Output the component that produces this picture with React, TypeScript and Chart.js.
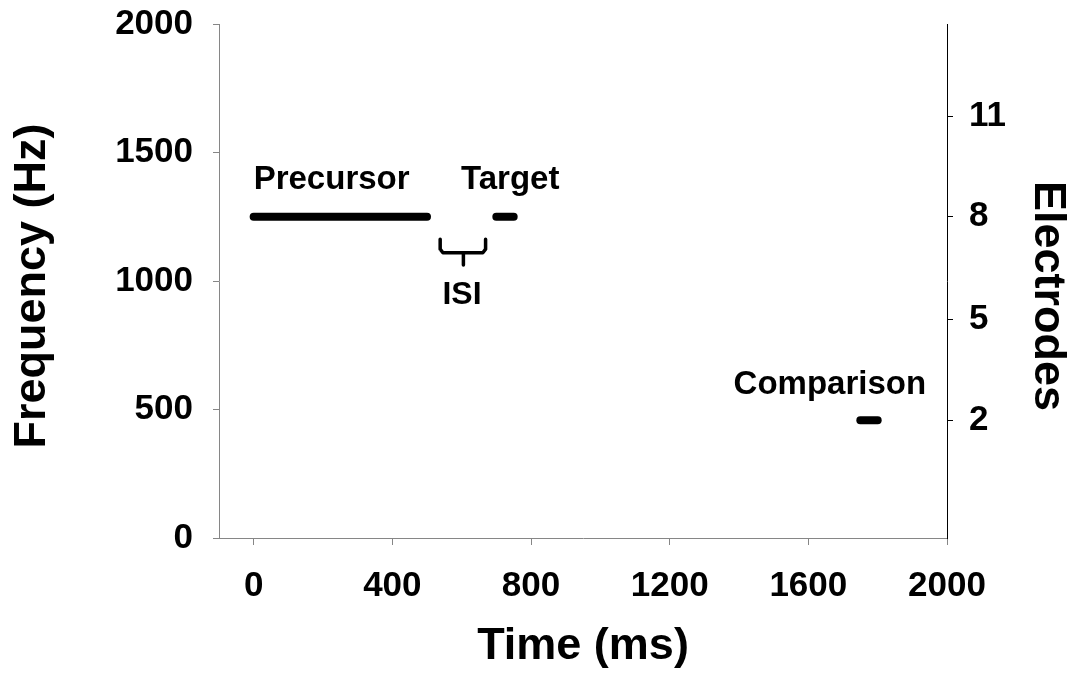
import React, { useEffect, useRef } from "react";
import { Chart, registerables } from "chart.js";

Chart.register(...registerables);

// Stimulus segments: time (ms) and frequency (Hz)
const precursorTime = [0, 500];
const precursorHz = [1250, 1250];
const targetTime = [700, 750];
const targetHz = [1250, 1250];
const comparisonTime = [1750, 1800];
const comparisonHz = [458, 458];

// ISI bracket drawn between the precursor and the target
const isiBracketTime = [538, 538, 546, 661, 669, 669];
const isiBracketHz = [1162, 1124, 1110, 1110, 1124, 1162];
const isiStemTime = [605, 605];
const isiStemHz = [1110, 1062];

// Axis ticks
const timeTicks = [0, 400, 800, 1200, 1600, 2000];
const freqTicks = [0, 500, 1000, 1500, 2000];
const electrodeLabels = ["2", "5", "8", "11"];
const electrodeHz = [458, 850, 1250, 1640];

// Text annotations (anchor in data units)
const noteTexts = ["Precursor", "Target", "ISI", "Comparison"];
const noteTime = [0, 740, 601, 1662];
const noteHz = [1393, 1393, 945, 594];
const noteAlign: CanvasTextAlign[] = ["left", "center", "center", "center"];

const FONT = "'Liberation Sans', Arial, Helvetica, sans-serif";
const AXIS_GREY = "#868686";
const TITLE_SIZE = 45;

const pts = (xs: number[], ys: number[]) => xs.map((x, i) => ({ x, y: ys[i] }));
const plain = (v: any) => String(v);

const notesPlugin = {
  id: "notes",
  afterDatasetsDraw(chart: any) {
    const { ctx, scales, chartArea } = chart;
    ctx.save();
    ctx.fillStyle = "#000";
    ctx.textBaseline = "middle";
    noteTexts.forEach((t, i) => {
      ctx.font = `bold ${i === 2 ? 32 : 33}px ${FONT}`;
      ctx.textAlign = noteAlign[i];
      ctx.fillText(t, scales.x.getPixelForValue(noteTime[i]), scales.y.getPixelForValue(noteHz[i]));
    });

    // vertical axis titles
    const midY = (chartArea.top + chartArea.bottom) / 2;
    ctx.font = `bold ${TITLE_SIZE}px ${FONT}`;
    ctx.textAlign = "center";

    ctx.save();
    ctx.translate(33, midY + 5);
    ctx.rotate(-Math.PI / 2);
    ctx.fillText("Frequency (Hz)", 0, 0);
    ctx.restore();

    ctx.save();
    ctx.translate(1047, midY + 15);
    ctx.rotate(Math.PI / 2);
    ctx.fillText("Electrodes", 0, 0);
    ctx.restore();

    ctx.restore();
  },
};

export default function App() {
  const ref = useRef<HTMLCanvasElement>(null);

  useEffect(() => {
    if (!ref.current) return;
    const seg = (data: any[], width: number) => ({
      data,
      borderColor: "#000",
      backgroundColor: "#000",
      borderWidth: width,
      borderCapStyle: "round" as const,
      borderJoinStyle: "round" as const,
      pointRadius: 0,
      showLine: true,
      fill: false,
      yAxisID: "y",
    });
    const fitVertical = (w: number) => (s: any) => {
      s.width = w;
      s.paddingTop = 0;
      s.paddingBottom = 0;
    };
    const chart = new Chart(ref.current, {
      type: "scatter",
      data: {
        datasets: [
          seg(pts(precursorTime, precursorHz), 8),
          seg(pts(targetTime, targetHz), 8),
          seg(pts(comparisonTime, comparisonHz), 8),
          seg(pts(isiBracketTime, isiBracketHz), 3.5),
          seg(pts(isiStemTime, isiStemHz), 3.5),
        ],
      },
      options: {
        responsive: false,
        animation: false,
        layout: { padding: { top: 24, left: 0, right: 0, bottom: 0 } },
        plugins: { legend: { display: false }, tooltip: { enabled: false } },
        scales: {
          x: {
            type: "linear",
            min: -100,
            max: 2000,
            afterBuildTicks: (s: any) => {
              s.ticks = timeTicks.map((v) => ({ value: v }));
            },
            afterFit: (s: any) => {
              s.height = 137;
              s.paddingLeft = 0;
              s.paddingRight = 0;
            },
            ticks: {
              autoSkip: false,
              maxRotation: 0,
              color: "#000",
              padding: 20,
              callback: plain,
              font: { family: FONT, size: 35, weight: "bold" },
            },
            grid: { drawOnChartArea: false, tickLength: 7, color: AXIS_GREY },
            border: { color: AXIS_GREY, width: 1 },
            title: {
              display: true,
              text: "Time (ms)",
              color: "#000",
              font: { family: FONT, size: TITLE_SIZE, weight: "bold" },
              padding: { top: 0, bottom: 1 },
            },
          },
          y: {
            type: "linear",
            position: "left",
            min: 0,
            max: 2000,
            afterBuildTicks: (s: any) => {
              s.ticks = freqTicks.map((v) => ({ value: v }));
            },
            afterFit: fitVertical(219),
            ticks: {
              color: "#000",
              padding: 20,
              callback: plain,
              font: { family: FONT, size: 35, weight: "bold" },
            },
            grid: { drawOnChartArea: false, tickLength: 6, color: AXIS_GREY },
            border: { color: AXIS_GREY, width: 1 },
          },
          y2: {
            type: "linear",
            position: "right",
            min: 0,
            max: 2000,
            afterBuildTicks: (s: any) => {
              s.ticks = electrodeHz.map((v) => ({ value: v }));
            },
            afterFit: fitVertical(126),
            ticks: {
              color: "#000",
              padding: 16,
              font: { family: FONT, size: 35, weight: "bold" },
              callback: (_v: any, i: number) => electrodeLabels[i],
            },
            grid: { drawOnChartArea: false, tickLength: 6, color: "#000" },
            border: { color: "#000", width: 1 },
          },
        },
      },
      plugins: [notesPlugin],
    });
    return () => chart.destroy();
  }, []);

  return (
    <div style={{ position: "fixed", left: 0, top: 0, width: 1073, height: 675, background: "#fff" }}>
      <canvas ref={ref} width={1073} height={675} style={{ display: "block" }} />
    </div>
  );
}
